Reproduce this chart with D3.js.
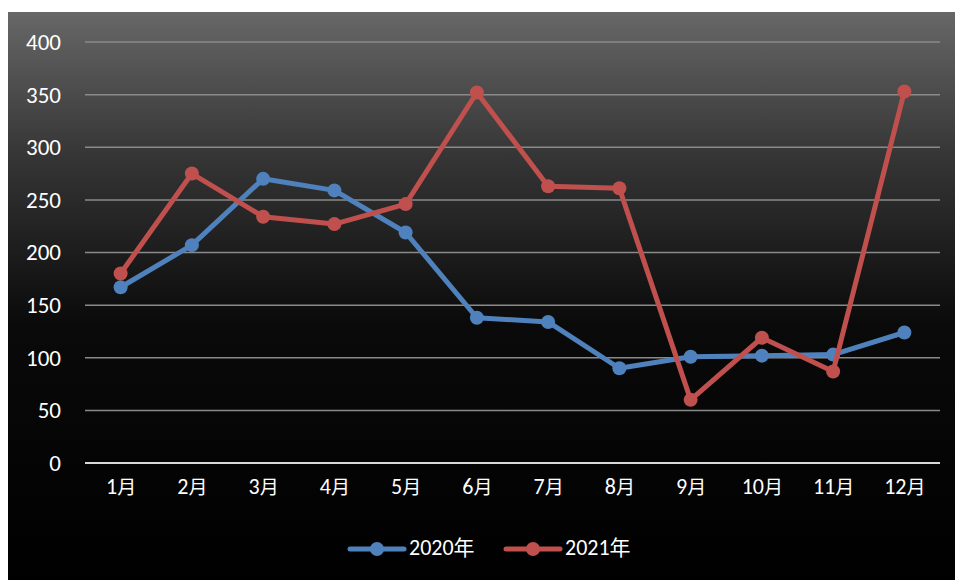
<!DOCTYPE html>
<html>
<head>
<meta charset="utf-8">
<script src="https://cdn.jsdelivr.net/npm/d3@7"></script>
<style>
  html, body { margin: 0; padding: 0; background: #fff; }
  svg { display: block; }
  text { font-family: Carlito, "Noto Sans CJK SC", sans-serif; }
</style>
</head>
<body>
<svg id="chart" width="955" height="580"></svg>
<script>
// Monthly values for the two years
const months = ["1月","2月","3月","4月","5月","6月","7月","8月","9月","10月","11月","12月"];
const series2020 = [167, 207, 270, 259, 219, 138, 134, 90, 101, 102, 103, 124];
const series2021 = [180, 275, 234, 227, 246, 352, 263, 261, 60, 119, 87, 353];
const seriesNames = ["2020年", "2021年"];
const seriesColors = ["#4f81bd", "#c0504d"];
const yTicks = [0, 50, 100, 150, 200, 250, 300, 350, 400];

const svg = d3.select("#chart");
const W = 955, H = 580;

// Background panel with dark vertical gradient
const defs = svg.append("defs");
const grad = defs.append("linearGradient")
  .attr("id", "bg").attr("x1", 0).attr("y1", 0).attr("x2", 0).attr("y2", 1);
grad.append("stop").attr("offset", "0%").attr("stop-color", "#676767");
grad.append("stop").attr("offset", "25%").attr("stop-color", "#363636");
grad.append("stop").attr("offset", "55%").attr("stop-color", "#0a0a0a");
grad.append("stop").attr("offset", "100%").attr("stop-color", "#000000");

svg.append("rect")
  .attr("x", 8).attr("y", 12).attr("width", W - 8).attr("height", H - 12)
  .attr("fill", "url(#bg)");

const plot = { left: 85, right: 940, top: 42, bottom: 463 };

const x = d3.scalePoint()
  .domain(months)
  .range([plot.left, plot.right])
  .padding(0.5);

const y = d3.scaleLinear()
  .domain([0, 400])
  .range([plot.bottom, plot.top]);

// Horizontal gridlines
svg.append("g")
  .selectAll("line")
  .data(yTicks.filter(d => d !== 0))
  .join("line")
  .attr("x1", plot.left).attr("x2", plot.right)
  .attr("y1", d => y(d)).attr("y2", d => y(d))
  .attr("stroke", "#8a8a8a").attr("stroke-width", 1.5);

// Y axis labels
const yAxis = svg.append("g")
  .attr("transform", `translate(${plot.left},0)`)
  .call(d3.axisLeft(y).tickValues(yTicks).tickSize(0).tickPadding(24));
yAxis.select(".domain").remove();
yAxis.selectAll("text")
  .attr("fill", "#ffffff")
  .style("font-size", "23px");

// Baseline
svg.append("line")
  .attr("x1", plot.left).attr("x2", plot.right)
  .attr("y1", y(0)).attr("y2", y(0))
  .attr("stroke", "#d9d9d9").attr("stroke-width", 2);

// X axis labels: digits and the month character sized separately
const xAxis = svg.append("g")
  .attr("transform", `translate(0,${plot.bottom})`)
  .call(d3.axisBottom(x).tickSize(0).tickPadding(24));
xAxis.select(".domain").remove();
xAxis.selectAll("text")
  .attr("fill", "#ffffff")
  .each(function(d) {
    const t = d3.select(this).text("");
    t.append("tspan").style("font-size", "22px").text(d.replace("月", ""));
    t.append("tspan").style("font-size", "19px").text("月");
  });

// Lines and markers
const allSeries = [series2020, series2021];
const line = d3.line()
  .x((d, i) => x(months[i]))
  .y(d => y(d));

allSeries.forEach((vals, si) => {
  svg.append("path")
    .datum(vals)
    .attr("d", line)
    .attr("fill", "none")
    .attr("stroke", seriesColors[si])
    .attr("stroke-width", 5)
    .attr("stroke-linejoin", "round")
    .attr("stroke-linecap", "round");
  svg.append("g")
    .selectAll("circle")
    .data(vals)
    .join("circle")
    .attr("cx", (d, i) => x(months[i]))
    .attr("cy", d => y(d))
    .attr("r", 7)
    .attr("fill", seriesColors[si]);
});

// Legend
const legend = svg.append("g").attr("transform", "translate(0,549)");
const legendX = [350, 506];
seriesNames.forEach((name, i) => {
  const g = legend.append("g").attr("transform", `translate(${legendX[i]},0)`);
  g.append("line")
    .attr("x1", 0).attr("x2", 54).attr("y1", 0).attr("y2", 0)
    .attr("stroke", seriesColors[i]).attr("stroke-width", 5)
    .attr("stroke-linecap", "round");
  g.append("circle").attr("cx", 27).attr("cy", 0).attr("r", 7)
    .attr("fill", seriesColors[i]);
  const t = g.append("text")
    .attr("x", 59).attr("y", 0).attr("dy", "0.35em")
    .attr("fill", "#ffffff");
  t.append("tspan").style("font-size", "22px").text(name.replace("年", ""));
  t.append("tspan").style("font-size", "21px").text("年");
});
</script>
</body>
</html>
